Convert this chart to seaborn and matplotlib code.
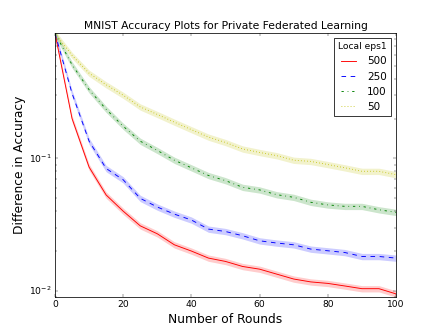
import seaborn as sns
import matplotlib
matplotlib.use('Agg')
import matplotlib.pyplot as plt

# rounds and mean accuracy gap for each local epsilon
rounds = [0, 5, 10, 15, 20, 25, 30, 35, 40, 45, 50,
          55, 60, 65, 70, 75, 80, 85, 90, 95, 100]
eps_labels = ['500', '250', '100', '50']
diff_500 = [0.88, 0.20, 0.086, 0.053, 0.040, 0.031, 0.027, 0.0223, 0.020, 0.0177, 0.0167,
            0.0153, 0.0146, 0.0134, 0.0123, 0.0117, 0.0114, 0.0109, 0.0104, 0.0104, 0.0095]
diff_250 = [0.88, 0.31, 0.135, 0.084, 0.069, 0.050, 0.043, 0.038, 0.0343, 0.0293, 0.0281,
            0.0261, 0.0239, 0.0230, 0.0223, 0.0207, 0.0201, 0.0195, 0.0182, 0.0182, 0.0177]
diff_100 = [0.88, 0.51, 0.33, 0.235, 0.175, 0.135, 0.115, 0.097, 0.085, 0.0744, 0.068,
            0.0606, 0.0579, 0.0533, 0.0509, 0.0467, 0.0446, 0.0435, 0.0435, 0.041, 0.0392]
diff_50 = [0.88, 0.60, 0.44, 0.36, 0.30, 0.245, 0.215, 0.188, 0.165, 0.145, 0.132,
           0.118, 0.111, 0.105, 0.097, 0.095, 0.090, 0.085, 0.080, 0.080, 0.0755]

series = [diff_500, diff_250, diff_100, diff_50]
colors = ['r', 'b', 'g', 'y']
styles = ['-', '--', '-.', ':']
band = 0.055  # relative half-width of the shaded band

plt.style.use('classic')
fig, ax = plt.subplots(figsize=(8, 6), dpi=55)

for vals, lab, c, ls in zip(series, eps_labels, colors, styles):
    sns.lineplot(x=rounds, y=vals, color=c, linestyle=ls, linewidth=1.2, label=lab, ax=ax)
    lo = [v * (1 - band) for v in vals]
    hi = [v * (1 + band) for v in vals]
    ax.fill_between(rounds, lo, hi, color=c, alpha=0.2, linewidth=0)

ax.set_yscale('log')
ax.set_xlim(0, 100)
ax.set_ylim(0.009, 0.885)
ax.set_xticks([0, 20, 40, 60, 80, 100])

ax.set_title('MNIST Accuracy Plots for Private Federated Learning', fontsize=14)
ax.set_xlabel('Number of Rounds', fontsize=16)
ax.set_ylabel('Difference in Accuracy', fontsize=16)

leg = ax.legend(title='Local eps1', loc='upper right', fontsize=13.5)
leg.get_title().set_fontsize(12)

plt.savefig('out.png', dpi=55)
